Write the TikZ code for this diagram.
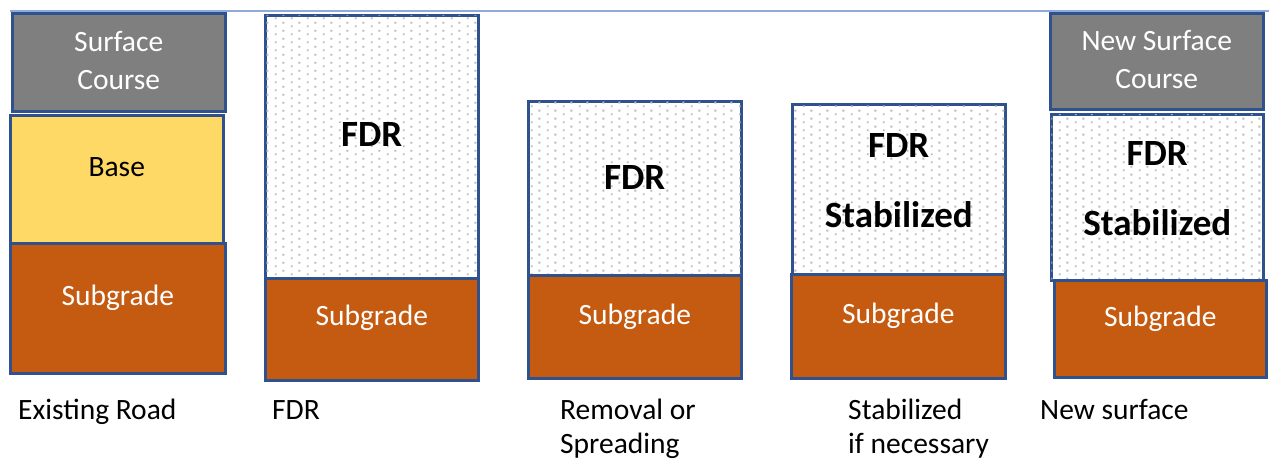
\documentclass[tikz,border=0pt]{standalone}
\usepackage{fontspec}
\setmainfont{Carlito}
\usepackage{tikz}
\usetikzlibrary{patterns,positioning}
\definecolor{roadblue}{RGB}{47,82,143}
\definecolor{linkblue}{RGB}{143,170,220}
\definecolor{surfacegray}{RGB}{127,127,127}
\definecolor{baseyellow}{RGB}{255,217,102}
\definecolor{subgradebrown}{RGB}{197,90,17}
\definecolor{dotgray}{RGB}{185,185,185}
% staggered dots for the reclaimed layer
\pgfdeclarepatternformonly{fdrdots}{\pgfpointorigin}{\pgfpoint{16pt}{8pt}}{\pgfpoint{16pt}{8pt}}{
  \pgfpathrectangle{\pgfpoint{3pt}{1pt}}{\pgfpoint{2pt}{2pt}}
  \pgfpathrectangle{\pgfpoint{11pt}{5pt}}{\pgfpoint{2pt}{2pt}}
  \pgfusepath{fill}}
\tikzstyle{layer}=[draw=roadblue,line width=2.5pt,anchor=north west,inner sep=0pt,minimum width=213pt]
\tikzstyle{surface}=[layer,fill=surfacegray]
\tikzstyle{base}=[layer,fill=baseyellow]
\tikzstyle{subgrade}=[layer,fill=subgradebrown]
\tikzstyle{fdr}=[layer,fill=white,postaction={pattern=fdrdots,pattern color=dotgray}]
\tikzstyle{whitetxt}=[text=white,align=center,font=\fontsize{29.5}{38}\selectfont]
\tikzstyle{blacktxt}=[align=center,font=\fontsize{29.5}{38}\selectfont]
\tikzstyle{boldtxt}=[align=center,font=\fontsize{37}{70}\selectfont\bfseries]
\tikzstyle{steptxt}=[anchor=base west,align=left,inner sep=0pt,font=\fontsize{29.5}{34}\selectfont]

\begin{document}
\begin{tikzpicture}[x=1pt,y=-1pt]
\useasboundingbox (0,0) rectangle (1269,459);
\coordinate (lineL) at (10,11);
\coordinate (lineR) at (1269,11);
\draw [linkblue,line width=1.5pt] (lineL) -- (lineR);

% existing road
\node [surface,minimum height=98pt] (surf1) at (11,12) {};
\node [base,minimum height=128pt] (base1) at (9,114) {};
\node [subgrade,minimum height=130pt,minimum width=215pt] (sub1) at (9,242) {};
\node [whitetxt] (surf1txt) at ([yshift=2pt]surf1.center) {Surface\\Course};
\node [blacktxt] (base1txt) at ([yshift=12pt]base1.center) {Base};
\node [whitetxt] (sub1txt) at ([yshift=10pt]sub1.center) {Subgrade};

% pulverized
\node [fdr,minimum height=263pt] (fdr2) at (264,14) {};
\node [subgrade,minimum height=102pt] (sub2) at (264,277) {};
\node [boldtxt] (fdr2txt) at ([yshift=12pt]fdr2.center) {FDR};
\node [whitetxt] (sub2txt) at ([yshift=11pt]sub2.center) {Subgrade};

% removal or spreading
\node [fdr,minimum height=174pt] (fdr3) at (527,100) {};
\node [subgrade,minimum height=103pt] (sub3) at (527,274) {};
\node [boldtxt] (fdr3txt) at ([yshift=11pt]fdr3.center) {FDR};
\node [whitetxt] (sub3txt) at ([yshift=10pt]sub3.center) {Subgrade};

% stabilized
\node [fdr,minimum height=170pt] (fdr4) at (791,103) {};
\node [subgrade,minimum height=104pt,minimum width=214pt] (sub4) at (790,273) {};
\node [boldtxt] (fdr4txt) at ([yshift=9pt]fdr4.center) {FDR\\Stabilized};
\node [whitetxt] (sub4txt) at ([yshift=10pt]sub4.center) {Subgrade};

% new surface
\node [surface,minimum height=96pt] (surf5) at (1049,12) {};
\node [fdr,minimum height=166pt,minimum width=212pt] (fdr5) at (1050,113) {};
\node [subgrade,minimum height=97pt,minimum width=212pt] (sub5) at (1053,279) {};
\node [whitetxt] (surf5txt) at ([yshift=2pt]surf5.center) {New Surface\\Course};
\node [boldtxt] (fdr5txt) at ([yshift=9pt]fdr5.center) {FDR\\Stabilized};
\node [whitetxt] (sub5txt) at ([yshift=10pt]sub5.center) {Subgrade};

% step names
\node [steptxt] (step1) at (18,419) {Existing Road};
\node [steptxt] (step2) at (272,419) {FDR};
\node [steptxt] (step3) at (560,453) {Removal or\\Spreading};
\node [steptxt] (step4) at (848,453) {Stabilized\\if necessary};
\node [steptxt] (step5) at (1040,419) {New surface};
\end{tikzpicture}
\end{document}
